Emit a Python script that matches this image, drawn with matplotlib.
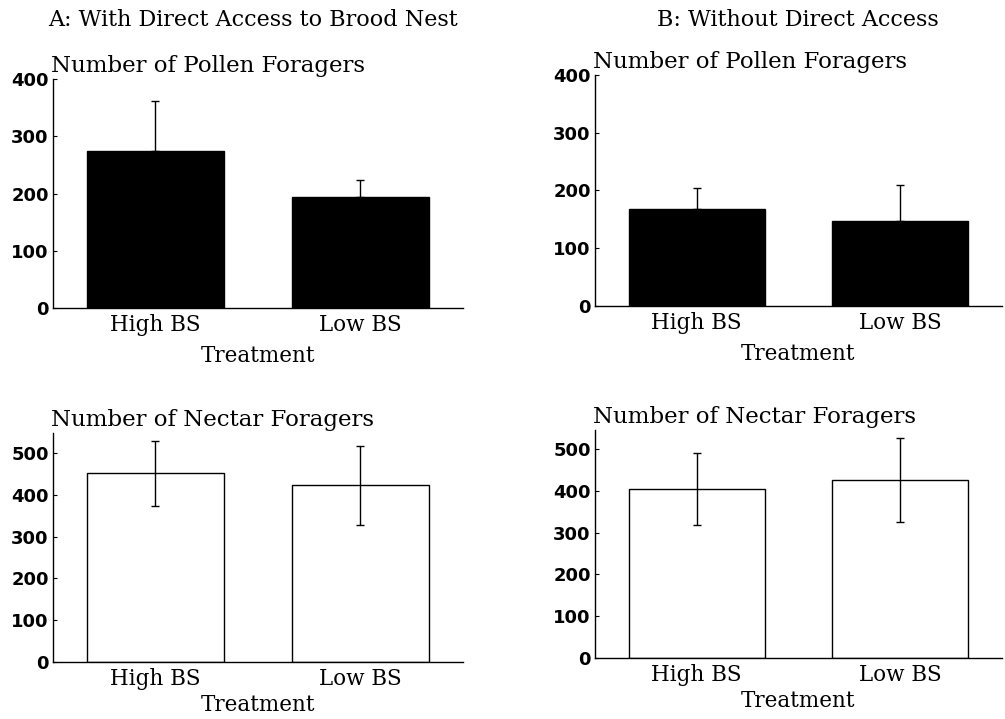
import matplotlib
matplotlib.use("Agg")
import matplotlib.pyplot as plt

# values
treatments = ["High BS", "Low BS"]
pollen_a = [274, 194]
pollen_a_err = [88, 30]
pollen_b = [168, 147]
pollen_b_err = [36, 62]
nectar_a = [452, 423]
nectar_a_err = [78, 95]
nectar_b = [404, 426]
nectar_b_err = [86, 100]

plt.rcParams["font.family"] = ["DejaVu Serif"]

fig = plt.figure(figsize=(10.05, 7.19), dpi=100)


def panel(rect, vals, errs, filled, title, ylim, yticks, xpad):
    ax = fig.add_axes(rect)
    x = range(len(treatments))
    if filled:
        ax.bar(x, vals, width=0.67, color="black", edgecolor="black", linewidth=1)
        # pollen panels only show the upper half of the error bar
        ax.errorbar(x, vals, yerr=[[0] * len(errs), errs], fmt="none",
                    ecolor="black", elinewidth=1, capsize=3, capthick=1)
    else:
        ax.bar(x, vals, width=0.67, color="white", edgecolor="black", linewidth=1)
        ax.errorbar(x, vals, yerr=errs, fmt="none",
                    ecolor="black", elinewidth=1, capsize=3, capthick=1)
    ax.set_xlim(-0.5, 1.5)
    ax.set_ylim(*ylim)
    ax.set_yticks(yticks)
    ax.set_xticks(list(x))
    ax.set_xticklabels(treatments, fontsize=15.5)
    for lab in ax.get_yticklabels():
        lab.set_family("DejaVu Sans")
        lab.set_fontweight("bold")
        lab.set_fontsize(13)
    ax.tick_params(axis="y", direction="in", length=3, width=0.8, pad=3)
    ax.tick_params(axis="x", length=0, pad=4)
    ax.spines["top"].set_visible(False)
    ax.spines["right"].set_visible(False)
    ax.spines["left"].set_linewidth(1)
    ax.spines["bottom"].set_linewidth(1)
    ax.set_xlabel("Treatment", fontsize=15.5, labelpad=xpad)
    ax.set_title(title, fontsize=16.5, loc="left", x=-0.005, pad=5)
    return ax


panel([0.0527, 0.5716, 0.408, 0.3185], pollen_a, pollen_a_err, True,
      "Number of Pollen Foragers", (0, 400), [0, 100, 200, 300, 400], 7)
panel([0.592, 0.5744, 0.405, 0.3213], pollen_b, pollen_b_err, True,
      "Number of Pollen Foragers", (0, 400), [0, 100, 200, 300, 400], 7)
panel([0.0527, 0.0793, 0.408, 0.3185], nectar_a, nectar_a_err, False,
      "Number of Nectar Foragers", (0, 548), [0, 100, 200, 300, 400, 500], 3)
panel([0.592, 0.0848, 0.405, 0.317], nectar_b, nectar_b_err, False,
      "Number of Nectar Foragers", (0, 545), [0, 100, 200, 300, 400, 500], 3)

fig.text(0.048, 1 - 20 / 719, "A: With Direct Access to Brood Nest",
         fontsize=16, ha="left", va="center")
fig.text(0.654, 1 - 20 / 719, "B: Without Direct Access",
         fontsize=16, ha="left", va="center")

fig.savefig("out.png", dpi=100)
